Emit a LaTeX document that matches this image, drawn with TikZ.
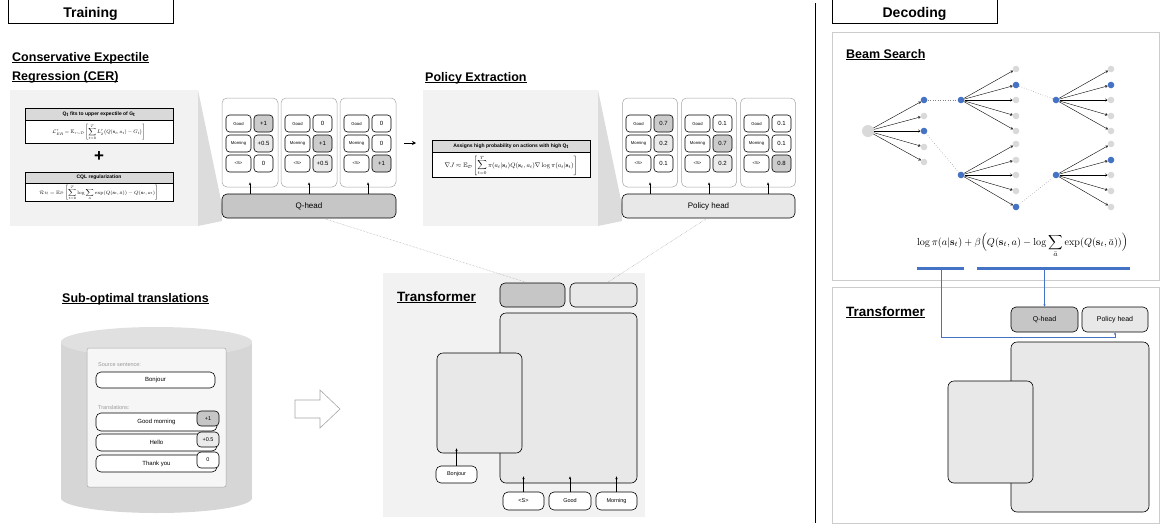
\documentclass[tikz,border=0pt]{standalone}
\usepackage[no-math]{fontspec}
\setmainfont{Liberation Sans}
\usepackage{amsmath,amssymb}
\usepackage{graphicx}
\usetikzlibrary{arrows.meta}

\definecolor{panelbg}{HTML}{F2F2F2}
\definecolor{wedgebg}{HTML}{DCDCDC}
\definecolor{qfill}{HTML}{C6C6C6}
\definecolor{pfill}{HTML}{E8E8E8}
\definecolor{hival}{HTML}{CCCCCC}
\definecolor{midval}{HTML}{EBEBEB}
\definecolor{hdrfill}{HTML}{D9D9D9}
\definecolor{beamblue}{HTML}{4472C4}
\definecolor{beamgray}{HTML}{D9D9D9}
\definecolor{cylbody}{HTML}{D6D6D6}
\definecolor{cyltop}{HTML}{E0E0E0}
\definecolor{cardbg}{HTML}{F6F6F6}
\definecolor{frameline}{HTML}{CCCCCC}
\definecolor{colframe}{HTML}{A6A6A6}
\definecolor{softtext}{HTML}{9A9A9A}

% underline drawn at a fixed depth below the baseline
\newcommand\ulbar[1]{\setbox0=\hbox{#1}\rlap{\rule[-2.2pt]{\wd0}{0.9pt}}\box0}

\begin{document}
\begin{tikzpicture}[x=1pt,y=-1pt,
  hdrbox/.style={draw, line width=0.9pt, minimum width=165pt, minimum height=25pt, inner sep=0pt},
  hdrtext/.style={anchor=base, inner sep=0pt, font=\bfseries\fontsize{14}{16}\selectfont},
  sectitle/.style={anchor=base west, inner sep=0pt, font=\bfseries\fontsize{12.5}{14}\selectfont},
  colpanel/.style={draw=colframe, line width=0.5pt, fill=white, rounded corners=5pt, minimum width=56pt, minimum height=89pt, inner sep=0pt},
  tok/.style={draw, line width=0.6pt, fill=white, rounded corners=3.5pt, minimum width=25pt, minimum height=17pt, inner sep=0pt, font=\fontsize{4.2}{5}\selectfont},
  val/.style={draw, line width=0.6pt, rounded corners=3.5pt, minimum width=19pt, minimum height=17pt, inner sep=0pt, font=\fontsize{6}{7}\selectfont},
  headbox/.style={draw, line width=0.6pt, rounded corners=5pt, inner sep=0pt, font=\fontsize{8}{9}\selectfont},
  blockbox/.style={draw, line width=0.6pt, fill=pfill, rounded corners=6pt, inner sep=0pt},
  smalltok/.style={draw, line width=0.6pt, fill=white, rounded corners=5pt, inner sep=0pt, font=\fontsize{5.5}{6}\selectfont},
  fhead/.style={draw, line width=0.8pt, fill=hdrfill, inner sep=0pt, font=\bfseries\fontsize{5}{6}\selectfont},
  fbody/.style={draw, line width=0.8pt, fill=white, inner sep=0pt},
  arr/.style={-{Stealth[length=3pt,width=2.4pt]}, line width=0.6pt},
  dotline/.style={densely dotted, line width=0.5pt, gray!70},
  bnode/.style={circle, minimum size=6.6pt, inner sep=0pt},
  barr/.style={-{Straight Barb[length=2pt,width=2.6pt]}, line width=0.4pt},
  bdot/.style={dotted, line width=0.5pt, gray},
  bluearr/.style={draw=beamblue, line width=0.9pt, -{Stealth[length=2.5pt,width=2.2pt]}}
]
\useasboundingbox (0,0) rectangle (1161,528);

% ---------------- section headers ----------------
\node[hdrbox] (trainhdr) at (90.5,10.5) {};
\node[hdrtext] at (90.5,17) {Training};
\node[hdrbox] (dechdr) at (914.5,10.5) {};
\node[hdrtext] at (914.5,17) {Decoding};
\draw[line width=0.7pt] (815,3) -- (815,523);

% ---------------- Conservative Expectile Regression ----------------
\node[sectitle] at (12,61) {\ulbar{Conservative Expectile}};
\node[sectitle] at (12,80) {\ulbar{Regression (CER)}};

\fill[panelbg] (10,90) rectangle (198,226);
\fill[wedgebg] (198,90) -- (222,205) -- (222,221) -- (198,226) -- cycle;

\node[fhead, minimum width=148pt, minimum height=12pt] (cerh1) at (99,114)
  {Q\textsubscript{t} fits to upper expectile of G\textsubscript{t}};
\node[fbody, minimum width=148pt, minimum height=23pt, anchor=north] (cerb1) at (cerh1.south)
  {\resizebox*{93pt}{16pt}{$\displaystyle \mathcal{L}^{\tau}_{ER}=\mathbb{E}_{\tau\sim\mathcal{D}}\left[\sum_{t=0}^{T}L_2^{\tau}\bigl(Q(\mathbf{s}_t,a_t)-G_t\bigr)\right]$}};
\node[font=\bfseries\fontsize{17}{17}\selectfont, inner sep=0pt] (plus) at (99,157) {+};
\node[fhead, minimum width=148pt, minimum height=11pt] (cerh2) at (99,177.5) {CQL regularization};
\node[fbody, minimum width=148pt, minimum height=18pt, anchor=north] (cerb2) at (cerh2.south)
  {\resizebox*{119pt}{15pt}{$\displaystyle \mathcal{R}_{\mathcal{H}}=\mathbb{E}_{\mathcal{D}}\left[\sum_{t=0}^{T}\log\sum_{\bar a}\exp(Q(\mathbf{s}_t,\bar a))-Q(\mathbf{s}_t,a_t)\right]$}};

% Q-value columns
\foreach \c/\cx/\va/\vb/\vc/\fa/\fb/\fc in {1/250/+1/+0.5/0/hival/midval/white,
                                          2/309/0/+1/+0.5/white/hival/midval,
                                          3/368/0/0/+1/white/white/hival}{
  \node[colpanel] (q\c) at (\cx,142.5) {};
  \node[tok] at (\cx-11.5,123.5) {Good};
  \node[tok] at (\cx-11.5,143.5) {Morning};
  \node[tok] at (\cx-11.5,163.5) {<S>};
  \node[val, fill=\fa] at (\cx+13.5,123.5) {\va};
  \node[val, fill=\fb] at (\cx+13.5,143.5) {\vb};
  \node[val, fill=\fc] at (\cx+13.5,163.5) {\vc};
}
\node[headbox, fill=qfill, minimum width=174pt, minimum height=24pt] (qhead) at (309,206) {Q-head};
\foreach \c in {1,2,3}{
  \draw[arr, shorten >=-5pt] (qhead.north -| q\c) -- (q\c.south);
}

% arrow towards policy extraction
\coordinate (pxa) at (404,143);
\coordinate (pxb) at (416,143);
\draw[-{Stealth[length=4pt,width=4pt]}, line width=1pt] (pxa) -- (pxb);

% ---------------- Policy Extraction ----------------
\node[sectitle] at (425,81) {\ulbar{Policy Extraction}};
\fill[panelbg] (423,90) rectangle (598,226);
\fill[wedgebg] (598,90) -- (622,205) -- (622,221) -- (598,226) -- cycle;

\node[fhead, minimum width=158pt, minimum height=12pt] (peh) at (511,146)
  {Assigns high probability on actions with high Q\textsubscript{t}};
\node[fbody, minimum width=158pt, minimum height=25pt, anchor=north] (peb) at (peh.south)
  {\resizebox*{133pt}{20pt}{$\displaystyle \nabla J\approx\mathbb{E}_{\mathcal{D}}\left[\sum_{t=0}^{T}\pi(a_t|\mathbf{s}_t)Q(\mathbf{s}_t,a_t)\nabla\log\pi(a_t|\mathbf{s}_t)\right]$}};

\foreach \c/\cx/\va/\vb/\vc/\fa/\fb/\fc in {1/650/0.7/0.2/0.1/hival/midval/white,
                                          2/709/0.1/0.7/0.2/white/hival/midval,
                                          3/768/0.1/0.1/0.8/white/white/hival}{
  \node[colpanel, minimum width=55pt] (p\c) at (\cx,142.5) {};
  \node[tok] at (\cx-11.5,123.5) {Good};
  \node[tok] at (\cx-11.5,143.5) {Morning};
  \node[tok] at (\cx-11.5,163.5) {<S>};
  \node[val, fill=\fa] at (\cx+13.5,123.5) {\va};
  \node[val, fill=\fb] at (\cx+13.5,143.5) {\vb};
  \node[val, fill=\fc] at (\cx+13.5,163.5) {\vc};
}
\node[headbox, fill=pfill, minimum width=173pt, minimum height=24pt] (phead) at (708.5,206) {Policy head};
\foreach \c in {1,2,3}{
  \draw[arr, shorten >=-5pt] (phead.north -| p\c) -- (p\c.south);
}

% ---------------- Sub-optimal translations ----------------
\node[sectitle] at (62,302) {\ulbar{Sub-optimal translations}};
\fill[cylbody] (61,342) rectangle (252,498);
\fill[cylbody] (156.5,498) ellipse [x radius=95.5pt, y radius=15pt];
\fill[cyltop] (156.5,342) ellipse [x radius=95.5pt, y radius=15pt];
\node[draw=colframe, line width=0.5pt, fill=cardbg, rounded corners=2pt, minimum width=139pt, minimum height=139pt, inner sep=0pt] (card) at (156.5,417.5) {};
\node[anchor=west, inner sep=0pt, text=softtext, font=\fontsize{5.5}{6}\selectfont] (srclab) at (98,365) {Source sentence:};
\node[smalltok, minimum width=119pt, minimum height=16pt, font=\fontsize{6}{7}\selectfont] (srcbox) at (155.5,380) {Bonjour};
\node[anchor=west, inner sep=0pt, text=softtext, font=\fontsize{5.5}{6}\selectfont] (trlab) at (98,408) {Translations:};
\node[smalltok, minimum width=121pt, minimum height=18pt, font=\fontsize{6}{7}\selectfont] (tr1) at (156.5,422) {Good morning};
\node[smalltok, minimum width=121pt, minimum height=17pt, font=\fontsize{6}{7}\selectfont] (tr2) at (156.5,442.5) {Hello};
\node[smalltok, minimum width=121pt, minimum height=17pt, font=\fontsize{6}{7}\selectfont] (tr3) at (156.5,463.5) {Thank you};
\node[smalltok, rounded corners=4pt, fill=qfill, minimum width=22pt, minimum height=15pt] (r1) at (208,418.5) {+1};
\node[smalltok, rounded corners=4pt, fill=midval, minimum width=22pt, minimum height=15pt] (r2) at (208,439.5) {+0.5};
\node[smalltok, rounded corners=4pt, fill=white, minimum width=22pt, minimum height=16pt] (r3) at (208,460) {0};

% hollow arrow
\draw[colframe, fill=white, line width=0.6pt] (295,400) -- (320,400) -- (320,390) -- (340,409)
  -- (320,428) -- (320,418) -- (295,418) -- cycle;

% ---------------- Transformer (training) ----------------
\fill[panelbg] (383,273) rectangle (645,517);
\node[sectitle, font=\bfseries\fontsize{13.5}{15}\selectfont] at (397,301) {\ulbar{Transformer}};
\node[headbox, fill=qfill, minimum width=65pt, minimum height=24pt] (tq) at (532.5,295) {};
\node[headbox, fill=pfill, minimum width=67pt, minimum height=24pt] (tp) at (603.5,295) {};
\node[blockbox, minimum width=137pt, minimum height=170pt] (dec) at (568.5,398) {};
\node[blockbox, minimum width=85pt, minimum height=100pt] (enc) at (479.5,403) {};
\node[smalltok, minimum width=41pt, minimum height=17pt] (tb) at (456.5,474.5) {Bonjour};
\node[smalltok, minimum width=41pt, minimum height=18pt] (ts) at (523.5,501) {<S>};
\node[smalltok, minimum width=42pt, minimum height=18pt] (tg) at (570,501) {Good};
\node[smalltok, minimum width=41pt, minimum height=18pt] (tm) at (616.5,501) {Morning};
\draw[arr, shorten >=-5pt] (tb.north) -- (tb.north |- enc.south);
\foreach \t in {ts,tg,tm}{
  \draw[arr, shorten >=-7pt] (\t.north) -- (\t.north |- dec.south);
}

% dotted links from the heads to their place in the transformer
\draw[dotline] ([xshift=14pt]qhead.south) -- ([xshift=-5pt]tq.north);
\draw[dotline] ([xshift=-1.5pt]phead.south) -- ([xshift=3.5pt]tp.north);

% ---------------- Decoding: beam search ----------------
\draw[frameline, line width=1pt, fill=white] (832,32) rectangle (1159,280);
\draw[frameline, line width=1pt, fill=white] (832,287) rectangle (1159,523);
\node[sectitle] at (846,58) {\ulbar{Beam Search}};

\node[bnode, fill=beamgray, minimum size=12pt] (root) at (868,131) {};
\foreach \i/\y/\f in {1/100/beamblue,2/116/beamgray,3/131/beamblue,4/147/beamgray,5/162/beamgray}{
  \node[bnode, fill=\f] (la\i) at (924,\y) {};
  \draw[barr] (root) -- (la\i);
}
\node[bnode, fill=beamblue] (ka) at (961,100) {};
\node[bnode, fill=beamblue] (kb) at (961,175) {};
\draw[bdot] (la1) -- (ka);
\draw[bdot] (la3) -- (kb);
\foreach \i/\y/\f in {1/69/beamgray,2/85/beamblue,3/100/beamgray,4/116/beamgray,5/131/beamgray}{
  \node[bnode, fill=\f] (ma\i) at (1016,\y) {};
  \draw[barr] (ka) -- (ma\i);
}
\foreach \i/\y/\f in {1/144/beamgray,2/160/beamgray,3/175/beamgray,4/191/beamgray,5/207/beamblue}{
  \node[bnode, fill=\f] (mb\i) at (1016,\y) {};
  \draw[barr] (kb) -- (mb\i);
}
\node[bnode, fill=beamblue] (kc) at (1056,100) {};
\node[bnode, fill=beamblue] (kd) at (1056,175) {};
\draw[bdot] (ma2) -- (kc);
\draw[bdot] (mb5) -- (kd);
\foreach \i/\y/\f in {1/69/beamgray,2/85/beamblue,3/100/beamgray,4/116/beamgray,5/131/beamgray}{
  \node[bnode, fill=\f] (na\i) at (1111,\y) {};
  \draw[barr] (kc) -- (na\i);
}
\foreach \i/\y/\f in {1/144/beamgray,2/160/beamblue,3/175/beamgray,4/191/beamgray,5/207/beamgray}{
  \node[bnode, fill=\f] (nb\i) at (1111,\y) {};
  \draw[barr] (kd) -- (nb\i);
}

% scoring rule
\node[anchor=base, inner sep=0pt] (score) at (1022.5,245)
  {\resizebox{211pt}{!}{$\displaystyle \log\pi(a|\mathbf{s}_t)+\beta\Bigl(Q(\mathbf{s}_t,a)-\log\sum_{\bar{a}}\exp(Q(\mathbf{s}_t,\bar{a}))\Bigr)$}};
\coordinate (bar1a) at (917,268);
\coordinate (bar1b) at (964,268);
\coordinate (bar2a) at (977,268);
\coordinate (bar2b) at (1130,268);
\coordinate (bar1) at (941,268);
\coordinate (bar2) at (1044.5,268);
\draw[beamblue, line width=3pt] (bar1a) -- (bar1b);
\draw[beamblue, line width=3pt] (bar2a) -- (bar2b);

% ---------------- Decoding: transformer ----------------
\node[sectitle, font=\bfseries\fontsize{13.5}{15}\selectfont] at (846,316) {\ulbar{Transformer}};
\node[headbox, fill=qfill, minimum width=67pt, minimum height=25pt, font=\fontsize{7}{8}\selectfont] (dq) at (1044.5,319.5) {Q-head};
\node[headbox, fill=pfill, minimum width=66pt, minimum height=25pt, font=\fontsize{7}{8}\selectfont] (dp) at (1115,319.5) {Policy head};
\node[blockbox, minimum width=138pt, minimum height=170pt] (ddec) at (1080,427) {};
\node[blockbox, minimum width=85pt, minimum height=102pt] (denc) at (990.5,432) {};

\draw[bluearr] (bar2 -| dq.north) -- (dq.north);
\draw[bluearr] (bar1) |- ([yshift=-5pt]dp.south) -- (dp.south);

\end{tikzpicture}
\end{document}
